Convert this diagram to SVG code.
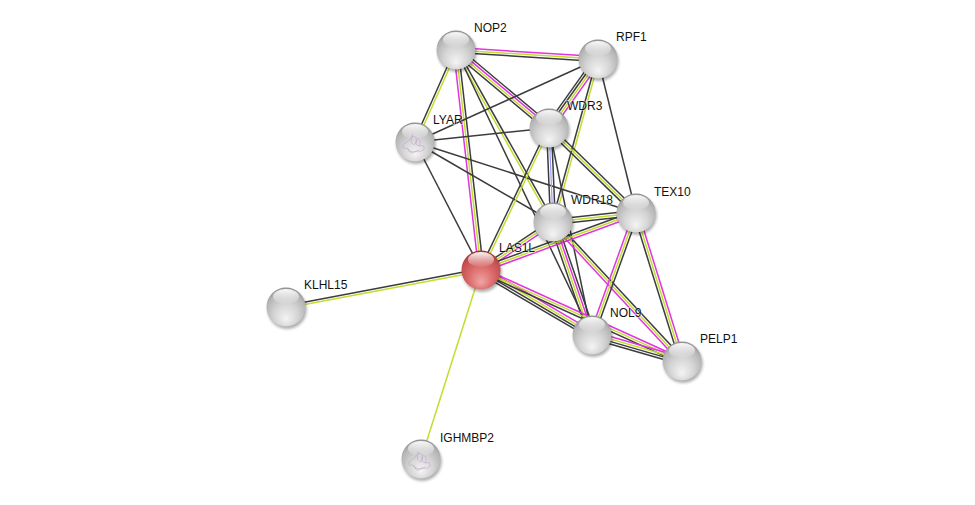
<svg xmlns="http://www.w3.org/2000/svg" xmlns:xlink="http://www.w3.org/1999/xlink" width="975" height="505" viewBox="0 0 975 505">
<style>
#edges line{stroke-width:1.5;fill:none}
.k{stroke:#3c3c3c}
.t{stroke:#c3dd2e}
.e{stroke:#e034e0}
.c{stroke:#9a9aff}
.lbl{font-family:"Liberation Sans",Arial,sans-serif;font-size:12px;fill:#111;stroke:#fff;stroke-width:1.5px;stroke-opacity:0.5;paint-order:stroke}
.sq{fill:none;stroke:#b48cc8;stroke-width:0.6;opacity:0.7}
</style>
<defs>
<filter id="blur" x="-30%" y="-30%" width="160%" height="160%"><feGaussianBlur stdDeviation="1.4"/></filter>
<radialGradient id="gGray" cx="0.5" cy="0.62" r="0.62" fx="0.5" fy="0.82">
<stop offset="0" stop-color="#f4f4f4"/>
<stop offset="0.5" stop-color="#d4d4d4"/>
<stop offset="0.85" stop-color="#b4b4b4"/>
<stop offset="1" stop-color="#8e8e8e"/>
</radialGradient>
<radialGradient id="gRed" cx="0.5" cy="0.62" r="0.62" fx="0.5" fy="0.82">
<stop offset="0" stop-color="#f0a4a4"/>
<stop offset="0.5" stop-color="#dc6c6c"/>
<stop offset="0.85" stop-color="#c44e4e"/>
<stop offset="1" stop-color="#9c3636"/>
</radialGradient>
<linearGradient id="gHi" x1="0" y1="0" x2="0" y2="1">
<stop offset="0" stop-color="#fff" stop-opacity="0.95"/>
<stop offset="1" stop-color="#fff" stop-opacity="0.05"/>
</linearGradient>
<g id="ball">
<circle cx="1.2" cy="2.5" r="19.5" fill="#000" opacity="0.32" filter="url(#blur)"/>
<circle r="19.5" fill="url(#gGray)"/>
<ellipse cx="0" cy="-10.5" rx="13" ry="7.5" fill="url(#gHi)"/>
</g>
<g id="ballRed">
<circle cx="1.2" cy="2.5" r="19.5" fill="#000" opacity="0.32" filter="url(#blur)"/>
<circle r="19.5" fill="url(#gRed)"/>
<ellipse cx="0" cy="-10.5" rx="13" ry="7.5" fill="url(#gHi)"/>
</g>
<path id="fold" class="sq" d="M-12,4 c2,-5 5,-3 7,-7 c1,-3 4,-4 6,-1 c2,3 -2,5 1,7 c3,2 6,-1 7,2 c1,3 -3,5 -6,4 c-3,-1 -4,3 -7,2 c-3,-1 -1,-4 -4,-5 c-2,0 -4,2 -4,-2 M-3,-8 c1,4 -2,6 0,9 c2,3 5,1 4,-3 M2,-4 c3,1 4,5 2,8 M-8,7 c3,3 8,4 12,1"/>
</defs>
<rect width="975" height="505" fill="#fff"/>
<g id="edges">
<g transform="translate(456 50) rotate(3.63)"><line class="e" x2="142.3" y1="-2.4" y2="-2.4"/><line class="t" x2="142.3"/><line class="k" x2="142.3" y1="2.4" y2="2.4"/></g>
<g transform="translate(456 50) rotate(114)"><line class="t" x2="100.7" y1="-1.2" y2="-1.2"/><line class="k" x2="100.7" y1="1.2" y2="1.2"/></g>
<g transform="translate(456 50) rotate(83.5)"><line class="e" x2="221.4" y1="2.4" y2="2.4"/><line class="t" x2="221.4"/><line class="k" x2="221.4" y1="-2.4" y2="-2.4"/></g>
<g transform="translate(456 50) rotate(40)"><line class="k" x2="121.4" y1="-3.6" y2="-3.6"/><line class="e" x2="121.4" y1="-1.2" y2="-1.2"/><line class="t" x2="121.4" y1="1.2" y2="1.2"/><line class="k" x2="121.4" y1="3.6" y2="3.6"/></g>
<g transform="translate(456 50) rotate(60.6)"><line class="t" x2="197.5" y1="1.2" y2="1.2"/><line class="k" x2="197.5" y1="-1.2" y2="-1.2"/></g>
<g transform="translate(456 50) rotate(64.5)"><line class="k" x2="315.8"/></g>
<g transform="translate(598 59) rotate(155.6)"><line class="k" x2="200.9"/></g>
<g transform="translate(598 59) rotate(125.4)"><line class="e" x2="84.6" y1="-3.6" y2="-3.6"/><line class="t" x2="84.6" y1="-1.2" y2="-1.2"/><line class="k" x2="84.6" y1="1.2" y2="1.2"/><line class="k" x2="84.6" y1="3.6" y2="3.6"/></g>
<g transform="translate(598 59) rotate(105.4)"><line class="t" x2="169.1" y1="-1.2" y2="-1.2"/><line class="k" x2="169.1" y1="1.2" y2="1.2"/></g>
<g transform="translate(598 59) rotate(76.1)"><line class="k" x2="158.6"/></g>
<g transform="translate(415 142) rotate(-5.96)"><line class="k" x2="134.7"/></g>
<g transform="translate(415 142) rotate(30.1)"><line class="k" x2="159.5"/></g>
<g transform="translate(415 142) rotate(17.8)"><line class="k" x2="232.1"/></g>
<g transform="translate(415 142) rotate(62.7)"><line class="k" x2="144"/></g>
<g transform="translate(549 128) rotate(87.6)"><line class="k" x2="94.1" y1="-2.4" y2="-2.4"/><line class="c" x2="94.1" style="stroke-width:1.2"/><line class="k" x2="94.1" y1="2.4" y2="2.4"/></g>
<g transform="translate(549 128) rotate(44.3)"><line class="k" x2="121.6" y1="-2.4" y2="-2.4"/><line class="t" x2="121.6"/><line class="k" x2="121.6" y1="2.4" y2="2.4"/></g>
<g transform="translate(549 128) rotate(115.6)"><line class="t" x2="157.4" y1="-1.2" y2="-1.2"/><line class="k" x2="157.4" y1="1.2" y2="1.2"/></g>
<g transform="translate(549 128) rotate(78.3)"><line class="k" x2="211.4"/></g>
<g transform="translate(553 222) rotate(-6.19)"><line class="k" x2="83.5" y1="-2.4" y2="-2.4"/><line class="t" x2="83.5"/><line class="k" x2="83.5" y1="2.4" y2="2.4"/></g>
<g transform="translate(553 222) rotate(146.3)"><line class="e" x2="86.5" y1="-2.4" y2="-2.4"/><line class="t" x2="86.5"/><line class="k" x2="86.5" y1="2.4" y2="2.4"/></g>
<g transform="translate(553 222) rotate(71)"><line class="k" x2="119.5" y1="-3.6" y2="-3.6"/><line class="e" x2="119.5" y1="-1.2" y2="-1.2"/><line class="t" x2="119.5" y1="1.2" y2="1.2"/><line class="k" x2="119.5" y1="3.6" y2="3.6"/></g>
<g transform="translate(553 222) rotate(47.1)"><line class="e" x2="189.6" y1="2.4" y2="2.4"/><line class="t" x2="189.6"/><line class="k" x2="189.6" y1="-2.4" y2="-2.4"/></g>
<g transform="translate(636 213) rotate(159.8)"><line class="e" x2="165.1" y1="-2.4" y2="-2.4"/><line class="t" x2="165.1"/><line class="k" x2="165.1" y1="2.4" y2="2.4"/></g>
<g transform="translate(636 213) rotate(109.8)"><line class="k" x2="129.7" y1="-2.4" y2="-2.4"/><line class="t" x2="129.7"/><line class="e" x2="129.7" y1="2.4" y2="2.4"/></g>
<g transform="translate(636 213) rotate(72.7)"><line class="k" x2="155" y1="2.4" y2="2.4"/><line class="t" x2="155"/><line class="e" x2="155" y1="-2.4" y2="-2.4"/></g>
<g transform="translate(481 270) rotate(169.3)"><line class="k" x2="198.5" y1="1.2" y2="1.2"/><line class="t" x2="198.5" y1="-1.2" y2="-1.2"/></g>
<g transform="translate(481 270) rotate(107.6)"><line class="t" x2="198.3"/></g>
<g transform="translate(481 270) rotate(30.4)"><line class="e" x2="128.6" y1="-3.6" y2="-3.6"/><line class="t" x2="128.6" y1="-1.2" y2="-1.2"/><line class="k" x2="128.6" y1="1.2" y2="1.2"/><line class="k" x2="128.6" y1="3.6" y2="3.6"/></g>
<g transform="translate(481 270) rotate(24.4)"><line class="e" x2="220.6" y1="-2.4" y2="-2.4"/><line class="t" x2="220.6"/><line class="k" x2="220.6" y1="2.4" y2="2.4"/></g>
<g transform="translate(592 335) rotate(16.1)"><line class="e" x2="93.7" y1="-3.6" y2="-3.6"/><line class="t" x2="93.7" y1="-1.2" y2="-1.2"/><line class="k" x2="93.7" y1="1.2" y2="1.2"/><line class="k" x2="93.7" y1="3.6" y2="3.6"/></g>
</g>
<g id="node-NOP2" transform="translate(456 50)"><use href="#ball"/><text class="lbl" x="18" y="-18">NOP2</text></g>
<g id="node-RPF1" transform="translate(598 59)"><use href="#ball"/><text class="lbl" x="18" y="-18">RPF1</text></g>
<g id="node-LYAR" transform="translate(415 142)"><use href="#ball"/><use href="#fold"/><text class="lbl" x="18" y="-18">LYAR</text></g>
<g id="node-WDR3" transform="translate(549 128)"><use href="#ball"/><text class="lbl" x="18" y="-18">WDR3</text></g>
<g id="node-WDR18" transform="translate(553 222)"><use href="#ball"/><text class="lbl" x="18" y="-18">WDR18</text></g>
<g id="node-TEX10" transform="translate(636 213)"><use href="#ball"/><text class="lbl" x="18" y="-17">TEX10</text></g>
<g id="node-LAS1L" transform="translate(481 270)"><use href="#ballRed"/><text class="lbl" x="18" y="-18">LAS1L</text></g>
<g id="node-KLHL15" transform="translate(286 307)"><use href="#ball"/><text class="lbl" x="18" y="-18">KLHL15</text></g>
<g id="node-NOL9" transform="translate(592 335)"><use href="#ball"/><text class="lbl" x="18" y="-18">NOL9</text></g>
<g id="node-PELP1" transform="translate(682 361)"><use href="#ball"/><text class="lbl" x="18" y="-18">PELP1</text></g>
<g id="node-IGHMBP2" transform="translate(421 459)"><use href="#ball"/><use href="#fold"/><text class="lbl" x="19" y="-17">IGHMBP2</text></g>
</svg>
